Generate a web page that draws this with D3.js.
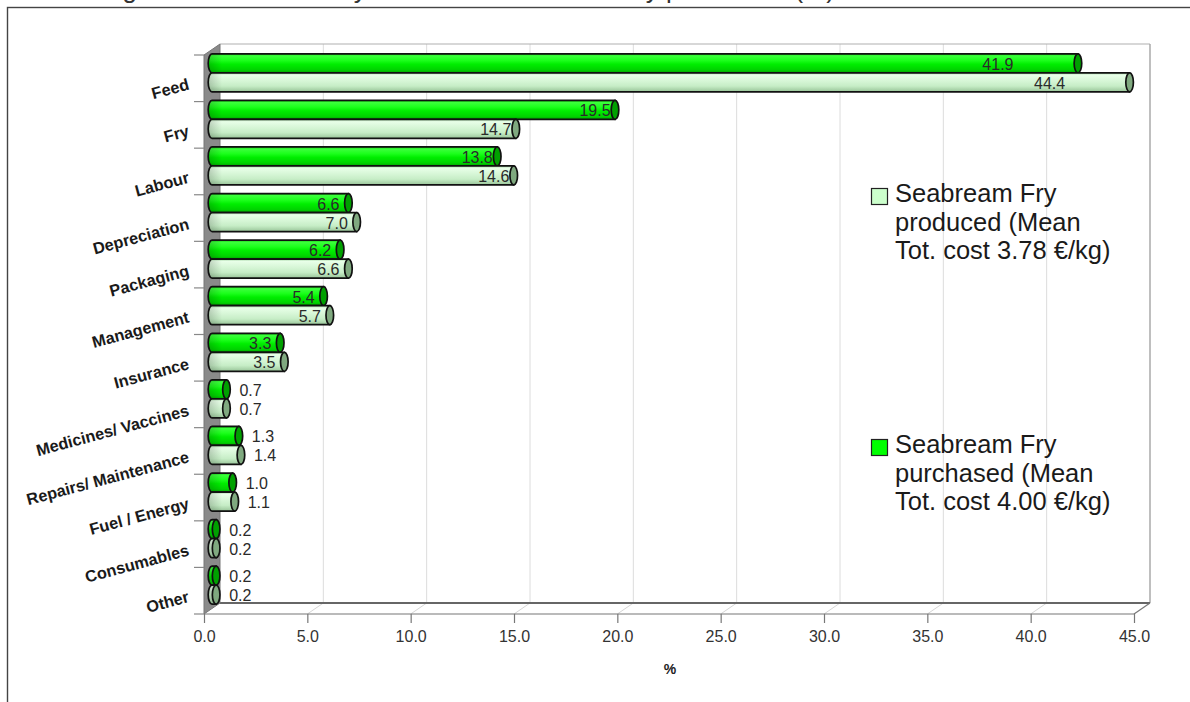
<!DOCTYPE html>
<html>
<head>
<meta charset="utf-8">
<script src="https://cdn.jsdelivr.net/npm/d3@7/dist/d3.min.js"></script>
<style>
  html, body { margin: 0; padding: 0; background: #fff; }
  svg { display: block; font-family: "Liberation Sans", Arial, sans-serif; }
</style>
</head>
<body>
<svg id="chart" width="1190" height="702"></svg>
<script>
// ---------------- data ----------------
const categories = ["Feed", "Fry", "Labour", "Depreciation", "Packaging", "Management",
  "Insurance", "Medicines/ Vaccines", "Repairs/ Maintenance", "Fuel / Energy", "Consumables", "Other"];
const purchased = [41.9, 19.5, 13.8, 6.6, 6.2, 5.4, 3.3, 0.7, 1.3, 1.0, 0.2, 0.2];
const produced  = [44.4, 14.7, 14.6, 7.0, 6.6, 5.7, 3.5, 0.7, 1.4, 1.1, 0.2, 0.2];
const seriesKeys = ["purchased", "produced"];
const xTicks = [0, 5, 10, 15, 20, 25, 30, 35, 40, 45];
const legendProduced = ["Seabream Fry", "produced (Mean", "Tot. cost 3.78 €/kg)"];
const legendPurchased = ["Seabream Fry", "purchased (Mean", "Tot. cost 4.00 €/kg)"];
const axisTitle = "%";
const figureTitle = "Figure 7: Seabream fry cost structure for own fry production (%)";

// ---------------- layout ----------------
const svg = d3.select("#chart");
const X0 = 204, X1 = 1134, Y0 = 55, Y1 = 614;
const DX = 16, DY = -11;           // 3D depth offset (front -> back)
const MX = DX / 2, MY = DY / 2;    // bars sit at mid depth

const x = d3.scaleLinear().domain([0, 45]).range([X0, X1]);
const y = d3.scaleBand().domain(categories).range([Y0, Y1]).padding(0);
const ySub = d3.scaleBand().domain(seriesKeys).range([0, y.bandwidth()]).paddingInner(0).paddingOuter(0.225);

const rows = categories.map((c, i) => ({ cat: c, purchased: purchased[i], produced: produced[i] }));

// defs: gradients
const defs = svg.append("defs");
function vGrad(id, stops) {
  const g = defs.append("linearGradient").attr("id", id).attr("x1", 0).attr("y1", 0).attr("x2", 0).attr("y2", 1);
  stops.forEach(s => g.append("stop").attr("offset", s[0]).attr("stop-color", s[1]));
}
vGrad("gGreen", [[0, "#00b000"], [0.1, "#3dff3d"], [0.35, "#1cff1c"], [0.55, "#00ee00"], [0.85, "#00d200"], [1, "#00a000"]]);
vGrad("gLight", [[0, "#a6d6a6"], [0.12, "#e8ffe8"], [0.4, "#d8f7d8"], [0.7, "#c6edc6"], [1, "#98c498"]]);
const hShade = defs.append("linearGradient").attr("id", "hShade").attr("x1", 0).attr("y1", 0).attr("x2", 1).attr("y2", 0);
hShade.append("stop").attr("offset", 0).attr("stop-color", "#000").attr("stop-opacity", 0.18);
hShade.append("stop").attr("offset", 1).attr("stop-color", "#000").attr("stop-opacity", 0);

const style = {
  purchased: { body: "url(#gGreen)", cap: "#00a000" },
  produced:  { body: "url(#gLight)", cap: "#7fa97f" }
};

// figure title (cut off at top, as in the source page)
svg.append("text").attr("x", 835).attr("y", -2).attr("text-anchor", "end")
  .attr("font-size", 26).attr("fill", "#333").text(figureTitle);

// outer frame
svg.append("rect").attr("x", 7.5).attr("y", 7.5).attr("width", 1300).attr("height", 800)
  .attr("fill", "none").attr("stroke", "#444").attr("stroke-width", 1.4);

// back wall gridlines
svg.append("g").selectAll("line").data(xTicks.slice(1)).join("line")
  .attr("x1", d => x(d) + DX).attr("x2", d => x(d) + DX)
  .attr("y1", Y0 + DY).attr("y2", Y1 + DY)
  .attr("stroke", "#dcdcdc").attr("stroke-width", 1);
// back wall top & right edges
svg.append("line").attr("x1", X0 + DX).attr("x2", X1 + DX).attr("y1", Y0 + DY).attr("y2", Y0 + DY)
  .attr("stroke", "#b0b0b0").attr("stroke-width", 1.2);
svg.append("line").attr("x1", X1 + DX).attr("x2", X1 + DX).attr("y1", Y0 + DY).attr("y2", Y1 + DY)
  .attr("stroke", "#a0a0a0").attr("stroke-width", 1.2);

// floor diagonals
svg.append("g").selectAll("line").data(xTicks.slice(1, -1)).join("line")
  .attr("x1", d => x(d)).attr("y1", Y1).attr("x2", d => x(d) + DX).attr("y2", Y1 + DY)
  .attr("stroke", "#d6d6d6").attr("stroke-width", 1);
// floor back edge, front edge, right edge
svg.append("line").attr("x1", X0 + DX).attr("x2", X1 + DX).attr("y1", Y1 + DY).attr("y2", Y1 + DY)
  .attr("stroke", "#666").attr("stroke-width", 2);
svg.append("line").attr("x1", X0).attr("x2", X1).attr("y1", Y1).attr("y2", Y1)
  .attr("stroke", "#777").attr("stroke-width", 1.2);
svg.append("line").attr("x1", X1).attr("y1", Y1).attr("x2", X1 + DX).attr("y2", Y1 + DY)
  .attr("stroke", "#777").attr("stroke-width", 1.2);

// left side wall
svg.append("path")
  .attr("d", `M${X0},${Y0} L${X0 + DX},${Y0 + DY} L${X0 + DX},${Y1 + DY} L${X0},${Y1} Z`)
  .attr("fill", "#8a8a8a").attr("stroke", "#777").attr("stroke-width", 1);

// y tick marks at band boundaries
const bounds = categories.map(c => y(c)).concat([Y1]);
svg.append("g").selectAll("line").data(bounds).join("line")
  .attr("x1", X0 - 10).attr("x2", X0).attr("y1", d => d).attr("y2", d => d)
  .attr("stroke", "#888").attr("stroke-width", 1.2);

// x axis (ticks + labels)
const xAxis = d3.axisBottom(x).tickValues(xTicks).tickFormat(d3.format(".1f"))
  .tickSize(9).tickSizeOuter(0).tickPadding(8);
const gx = svg.append("g").attr("transform", `translate(0,${Y1})`).call(xAxis);
gx.select(".domain").remove();
gx.selectAll(".tick line").attr("stroke", "#777").attr("stroke-width", 1.2);
gx.selectAll(".tick text").attr("font-size", 16).attr("fill", "#333")
  .attr("font-family", "Liberation Sans, Arial, sans-serif");

// axis title
svg.append("text").attr("x", 670).attr("y", 674).attr("text-anchor", "middle")
  .attr("font-size", 14).attr("font-weight", "bold").attr("fill", "#222").text(axisTitle);

// category labels (rotated)
svg.append("g").selectAll("text").data(categories).join("text")
  .attr("transform", c => `translate(190,${y(c) + y.bandwidth() / 2 + 11}) rotate(-15)`)
  .attr("text-anchor", "end").attr("font-size", 16.3).attr("font-weight", "bold")
  .attr("fill", "#1a1a1a").text(c => c);

// bars (cylinders)
const RX = 3.8;
const barData = [];
rows.forEach(r => seriesKeys.forEach(k => barData.push({ cat: r.cat, key: k, v: r[k] })));
const gBars = svg.append("g");
const bar = gBars.selectAll("g.bar").data(barData).join("g").attr("class", "bar");
function geom(d) {
  const x0 = x(0) + MX, x1 = x(d.v) + MX;
  const yTop = y(d.cat) + ySub(d.key) + MY;
  const h = ySub.bandwidth();
  return { x0, x1, yTop, h };
}
bar.append("path")
  .attr("d", d => {
    const g = geom(d), ry = g.h / 2;
    return `M${g.x0},${g.yTop} L${g.x1},${g.yTop} L${g.x1},${g.yTop + g.h} L${g.x0},${g.yTop + g.h} A${RX},${ry} 0 0 1 ${g.x0},${g.yTop} Z`;
  })
  .attr("fill", d => style[d.key].body).attr("stroke", "#111").attr("stroke-width", 1.7);
bar.append("path")
  .attr("d", d => {
    const g = geom(d), ry = g.h / 2, w = Math.min(10, g.x1 - g.x0 + RX);
    return `M${g.x0},${g.yTop + 1} L${g.x0 + w},${g.yTop + 1} L${g.x0 + w},${g.yTop + g.h - 1} L${g.x0},${g.yTop + g.h - 1} A${RX},${ry - 1} 0 0 1 ${g.x0},${g.yTop + 1} Z`;
  })
  .attr("fill", "url(#hShade)");
bar.append("ellipse")
  .attr("cx", d => geom(d).x1).attr("cy", d => geom(d).yTop + geom(d).h / 2)
  .attr("rx", RX).attr("ry", d => geom(d).h / 2)
  .attr("fill", d => style[d.key].cap).attr("stroke", "#111").attr("stroke-width", 1.7);

// value labels
svg.append("g").selectAll("text").data(barData).join("text")
  .attr("x", d => d.v >= 3 ? x(d.v) - (d.v > 40 ? 72 : 12) : x(d.v) + 21)
  .attr("y", d => geom(d).yTop + geom(d).h / 2 + 1)
  .attr("dominant-baseline", "central")
  .attr("text-anchor", d => d.v >= 3 ? "middle" : "start")
  .attr("font-size", 16).attr("fill", "#2a2a2a")
  .text(d => d3.format(".1f")(d.v));

// legend
function legend(yBox, color, lines) {
  const g = svg.append("g");
  g.append("rect").attr("x", 871.5).attr("y", yBox + 0.5).attr("width", 16).attr("height", 16)
    .attr("fill", color).attr("stroke", "#222").attr("stroke-width", 1.2);
  g.selectAll("text").data(lines).join("text")
    .attr("x", 895).attr("y", (d, i) => yBox + 14 + i * 28.5)
    .attr("font-size", 25.5).attr("fill", "#1a1a1a").text(d => d);
}
legend(188, "#ccffcc", legendProduced);
legend(439, "#00ff00", legendPurchased);
</script>
</body>
</html>
